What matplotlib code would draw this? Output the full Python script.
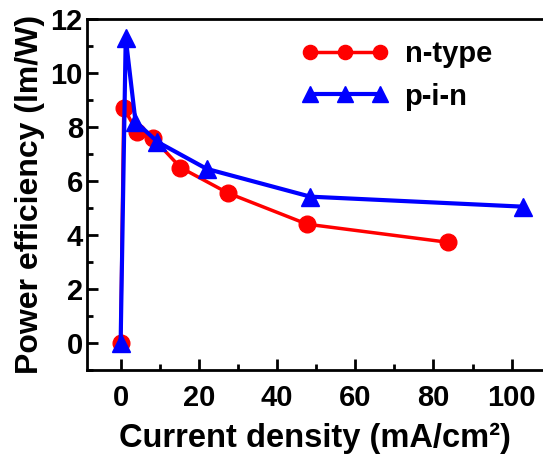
import matplotlib
matplotlib.use("Agg")
import matplotlib.pyplot as plt
from matplotlib.ticker import MultipleLocator

plt.rcParams['font.family'] = ['Liberation Sans', 'DejaVu Sans']
plt.rcParams['font.weight'] = 'bold'

# data
n_x = [0, 0.8, 4.3, 8.2, 15.3, 27.5, 47.7, 83.7]
n_y = [0, 8.7, 7.8, 7.6, 6.5, 5.55, 4.4, 3.73]
p_x = [0, 1.3, 3.8, 9.4, 22, 48.5, 102.8]
p_y = [0, 11.3, 8.2, 7.45, 6.45, 5.42, 5.05]

fig = plt.figure(figsize=(5.43, 4.61), dpi=100)
ax = fig.add_axes([87 / 543, 1 - 370 / 461, 1 - 87 / 543, (370 - 19) / 461])

ax.plot(n_x, n_y, color='#ff0000', lw=2.5, marker='o', ms=12, label='n-type')
ax.plot(p_x, p_y, color='#0000ff', lw=3, marker='^', ms=13, label='p-i-n')

ax.set_xlim(-8.6, 108)
ax.set_ylim(-1, 12)
ax.xaxis.set_major_locator(MultipleLocator(20))
ax.xaxis.set_minor_locator(MultipleLocator(10))
ax.yaxis.set_major_locator(MultipleLocator(2))
ax.yaxis.set_minor_locator(MultipleLocator(1))
ax.tick_params(which='both', direction='in', width=2, labelsize=21)
ax.tick_params(which='major', length=8)
ax.tick_params(which='minor', length=4)
ax.tick_params(axis='x', which='major', pad=10)
ax.tick_params(axis='y', which='major', pad=3)
for side in ['left', 'bottom', 'top']:
    ax.spines[side].set_linewidth(2)
ax.spines['right'].set_visible(False)

ax.set_xlabel('Current density (mA/cm²)', fontsize=23.5, fontweight='bold', labelpad=8)
ax.set_ylabel('Power efficiency (lm/W)', fontsize=23, fontweight='bold', labelpad=4)

leg = ax.legend(loc='upper left', bbox_to_anchor=(301 / 543, 1 - 40 / 461), bbox_transform=fig.transFigure,
                frameon=False, fontsize=21, numpoints=3, handlelength=3.0, handletextpad=0.55,
                labelspacing=0.5, borderpad=0, borderaxespad=0, markerscale=0.85)

fig.savefig('out.png', dpi=100)
